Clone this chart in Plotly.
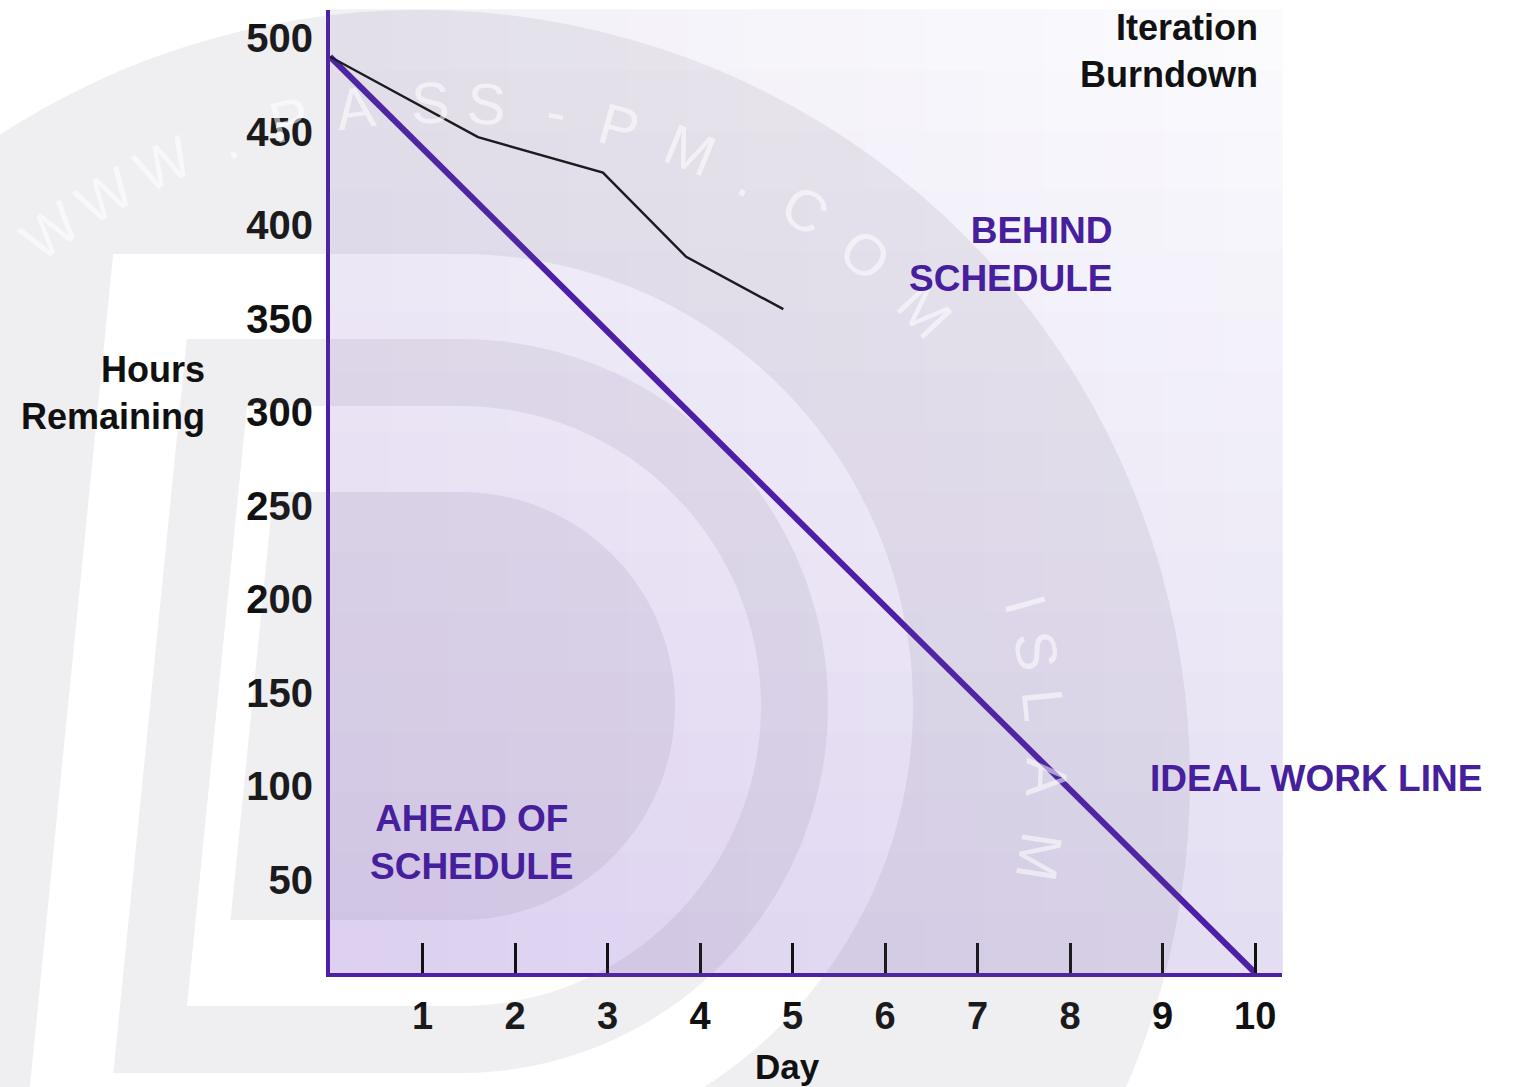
import numpy as np
import plotly.graph_objects as go

# ---------------- data ----------------
ideal_days = [0, 10]
ideal_hours = [490, 0]
actual_days = [0, 1.6, 2.95, 3.85, 4.9]
actual_hours = [490, 447, 428, 383, 355]
x_tick_vals = [1, 2, 3, 4, 5, 6, 7, 8, 9, 10]
x_tick_text = ["1", "2", "3", "4", "5", "6", "7", "8", "9", "10"]
y_tick_vals = [50, 100, 150, 200, 250, 300, 350, 400, 450, 500]
y_tick_text = ["50", "100", "150", "200", "250", "300", "350", "400", "450", "500"]

# ---------------- layout geometry ----------------
W, H = 1514, 1087
ML, MR, MT, MB = 330, 232, 10, 114
PW = W - ML - MR
PH = H - MT - MB
PURPLE = "#4C1FA6"
TEXT_PURPLE = "#46209C"
FONT = "Liberation Sans, Arial, sans-serif"


def px(x):
    return (x - ML) / PW


def py(y):
    return (H - MB - y) / PH


shapes = []

# plot-area gradient background (decorative)
corner_bl = np.array([220, 207, 240])
corner_br = np.array([228, 222, 242])
corner_tl = np.array([242, 240, 247])
corner_tr = np.array([252, 252, 254])
n = 16
ov = 0.8 / PW
for i in range(n):
    for j in range(n):
        u = (i + 0.5) / n
        v = (j + 0.5) / n
        c = (corner_bl * (1 - u) * (1 - v) + corner_br * u * (1 - v)
             + corner_tl * (1 - u) * v + corner_tr * u * v)
        shapes.append(dict(type="rect", xref="paper", yref="paper",
                           x0=i / n, x1=(i + 1) / n + ov, y0=j / n, y1=(j + 1) / n + ov,
                           fillcolor="rgb(%d,%d,%d)" % tuple(c.round().astype(int)),
                           line=dict(width=0), layer="below"))


# watermark: big disc with nested "D" rings (evenodd)
def circle_path(cx, cy, r, npts=160):
    t = np.linspace(0, 2 * np.pi, npts, endpoint=False)
    pts = [(px(cx + r * np.cos(a)), py(cy - r * np.sin(a))) for a in t]
    return "M " + " L ".join("%.5f,%.5f" % p for p in pts) + " Z"


def d_path(cx, cy, r, xl0, slant=0.1, npts=80):
    pts = [(xl0 + slant * r, cy - r), (cx, cy - r)]
    for a in np.linspace(np.pi / 2, -np.pi / 2, npts):
        pts.append((cx + r * np.cos(a), cy - r * np.sin(a)))
    pts.append((xl0 - slant * r, cy + r))
    pts = [(px(x), py(y)) for x, y in pts]
    return "M " + " L ".join("%.5f,%.5f" % p for p in pts) + " Z"


wm = circle_path(420, 780, 770)
for r, xl0 in [(452, 68), (367, 150), (300, 217), (214, 252)]:
    wm += " " + d_path(461, 706, r, xl0)
shapes.append(dict(type="path", xref="paper", yref="paper", path=wm,
                   fillcolor="rgba(110,100,130,0.11)", fillrule="evenodd",
                   line=dict(width=0), layer="above"))

fig = go.Figure()
fig.add_trace(go.Scatter(x=ideal_days, y=ideal_hours, mode="lines",
                         line=dict(color=PURPLE, width=6), showlegend=False,
                         hoverinfo="skip"))
fig.add_trace(go.Scatter(x=actual_days, y=actual_hours, mode="lines",
                         line=dict(color="#111111", width=2.4), showlegend=False,
                         hoverinfo="skip"))

annotations = []
# watermark letters along the ring
top_letters = list("WWW.PASS-PM.COM")
top_angles = [126.4, 120.8, 115.0, 109.0, 103.4, 97.6, 91.1, 86.2, 80.1, 74.5,
              68.1, 62.3, 56.8, 50.3, 43.2]
side_letters = list("ISLAM")
side_angles = [15.3, 10.7, 5.5, -1.4, -8.9]
for letters, angles, rad in [(top_letters, top_angles, 661), (side_letters, side_angles, 604)]:
    for ch, ang in zip(letters, angles):
        a = np.deg2rad(ang)
        annotations.append(dict(
            x=px(443 + rad * np.cos(a)), y=py(763 - rad * np.sin(a)),
            xref="paper", yref="paper", text=ch, showarrow=False,
            textangle=90 - ang, xanchor="center", yanchor="middle",
            font=dict(family=FONT, size=58, color="rgba(255,255,255,0.55)")))

annotations += [
    dict(x=px(1260), y=py(51), xref="paper", yref="paper",
         text="Iteration<br>Burndown", showarrow=False, xanchor="right",
         yanchor="middle", align="right",
         font=dict(family=FONT, size=36, color="#111111", weight=700)),
    dict(x=px(207), y=py(393), xref="paper", yref="paper",
         text="Hours<br>Remaining", showarrow=False, xanchor="right",
         yanchor="middle", align="right",
         font=dict(family=FONT, size=36, color="#111111", weight=700)),
    dict(x=px(1115), y=py(255), xref="paper", yref="paper",
         text="BEHIND<br>SCHEDULE", showarrow=False, xanchor="right",
         yanchor="middle", align="right",
         font=dict(family=FONT, size=37, color=TEXT_PURPLE, weight=700)),
    dict(x=px(472), y=py(842), xref="paper", yref="paper",
         text="AHEAD OF<br>SCHEDULE", showarrow=False, xanchor="center",
         yanchor="middle", align="center",
         font=dict(family=FONT, size=37, color=TEXT_PURPLE, weight=700)),
    dict(x=px(1148), y=py(778), xref="paper", yref="paper",
         text="IDEAL WORK LINE", showarrow=False, xanchor="left",
         yanchor="middle", align="left",
         font=dict(family=FONT, size=37, color=TEXT_PURPLE, weight=700)),
    dict(x=px(787), y=py(1066), xref="paper", yref="paper",
         text="Day", showarrow=False, xanchor="center", yanchor="middle",
         font=dict(family=FONT, size=35, color="#111111", weight=700)),
]

fig.update_layout(
    width=W, height=H, autosize=False,
    margin=dict(l=ML, r=MR, t=MT, b=MB, pad=0),
    paper_bgcolor="white", plot_bgcolor="rgba(0,0,0,0)",
    shapes=shapes, annotations=annotations, showlegend=False,
    xaxis=dict(range=[0, 10.29], showgrid=False, zeroline=False,
               showline=True, linecolor=PURPLE, linewidth=4,
               tickmode="array", tickvals=x_tick_vals, ticktext=x_tick_text,
               ticks="inside", ticklen=30, tickwidth=3, tickcolor="#111111",
               ticklabelstandoff=6,
               tickfont=dict(family=FONT, size=38, color="#111111", weight=700)),
    yaxis=dict(range=[0, 515], showgrid=False, zeroline=False,
               showline=True, linecolor=PURPLE, linewidth=4,
               tickmode="array", tickvals=y_tick_vals, ticktext=y_tick_text,
               ticks="", ticklabelstandoff=5,
               tickfont=dict(family=FONT, size=40, color="#111111", weight=700)),
)

fig.write_html("out.html", config={"displayModeBar": False},
               post_script="document.body.style.margin='0';document.body.style.overflow='hidden';")
